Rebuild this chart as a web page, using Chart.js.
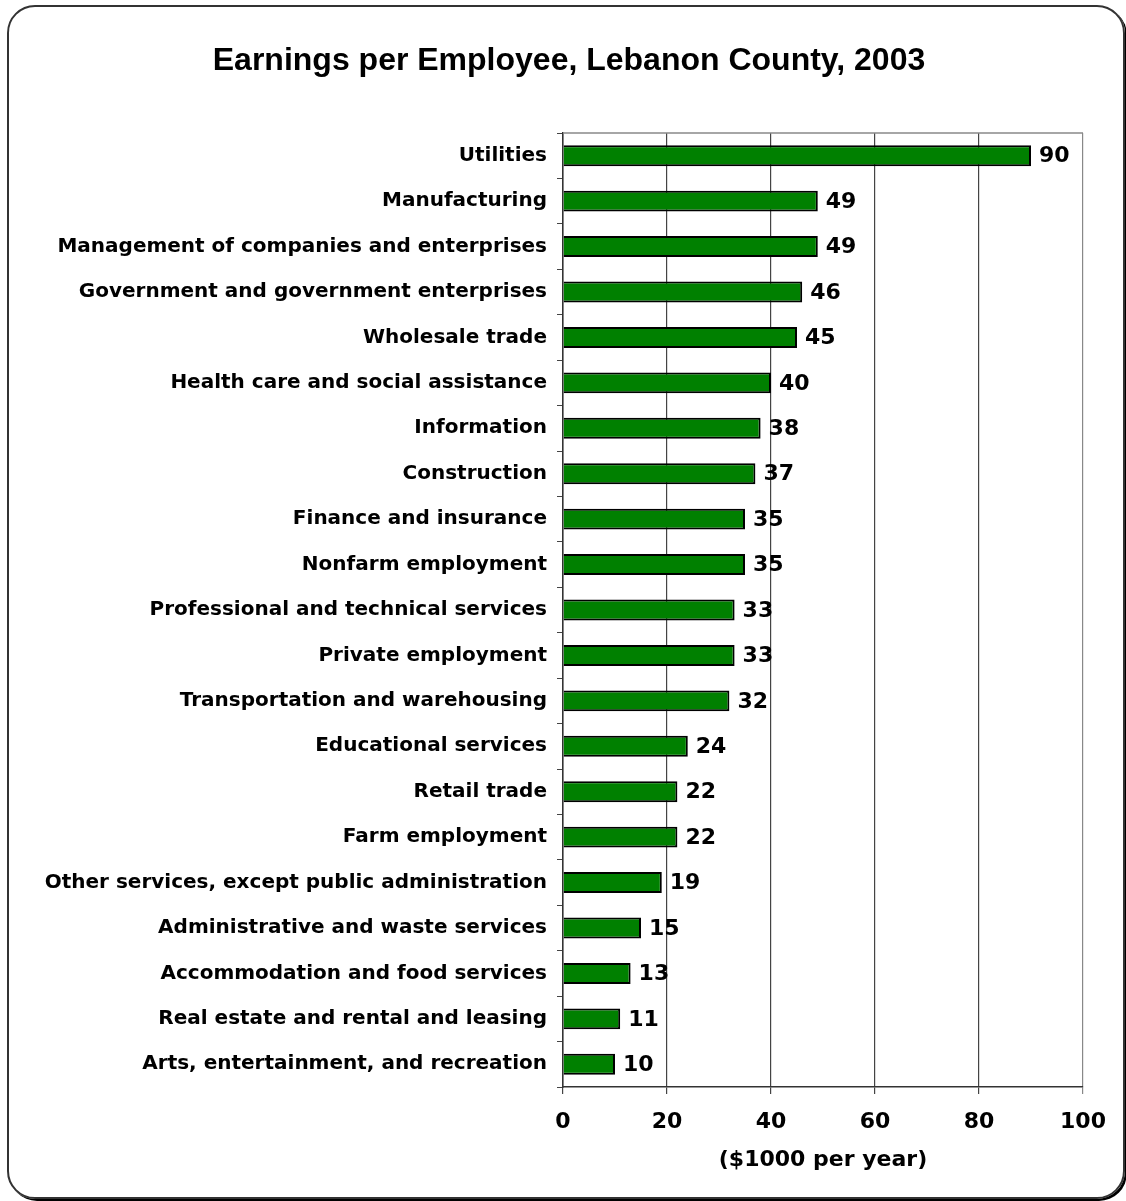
<!DOCTYPE html>
<html>
<head>
<meta charset="utf-8">
<script src="https://cdn.jsdelivr.net/npm/chart.js@4.4.1/dist/chart.umd.min.js"></script>
<style>
  html, body { margin: 0; padding: 0; background: #fff; }
  #wrap { position: relative; width: 1126px; height: 1201px; }
  #frame {
    position: absolute; left: 7px; top: 5px; width: 1118px; height: 1194px;
    box-sizing: border-box; border: 2px solid #333; border-radius: 28px;
    box-shadow: 2px 2px 0 #000; pointer-events: none;
  }
</style>
</head>
<body>
<div id="wrap">
  <canvas id="earnChart" width="1126" height="1201"></canvas>
  <div id="frame"></div>
</div>
<script>
// earnings per employee by industry, $1000 per year
var industries = [
  "Utilities",
  "Manufacturing",
  "Management of companies and enterprises",
  "Government and government enterprises",
  "Wholesale trade",
  "Health care and social assistance",
  "Information",
  "Construction",
  "Finance and insurance",
  "Nonfarm employment",
  "Professional and technical services",
  "Private employment",
  "Transportation and warehousing",
  "Educational services",
  "Retail trade",
  "Farm employment",
  "Other services, except public administration",
  "Administrative and waste services",
  "Accommodation and food services",
  "Real estate and rental and leasing",
  "Arts, entertainment, and recreation"
];
var earnings = [90, 49, 49, 46, 45, 40, 38, 37, 35, 35, 33, 33, 32, 24, 22, 22, 19, 15, 13, 11, 10];
var xTicks = [0, 20, 40, 60, 80, 100];

var chartTitle = "Earnings per Employee, Lebanon County, 2003";
var axisTitle = "($1000 per year)";

var labelFont = "DejaVu Sans";

// title, plot border and value labels
var extras = {
  id: 'extras',
  beforeDatasetsDraw: function(chart) {
    var a = chart.chartArea, ctx = chart.ctx;
    ctx.save();
    ctx.strokeStyle = '#888';
    ctx.lineWidth = 1.5;
    ctx.beginPath();
    ctx.moveTo(a.left, a.top);
    ctx.lineTo(a.right, a.top);
    ctx.stroke();
    ctx.restore();
  },
  afterDraw: function(chart) {
    var ctx = chart.ctx;
    ctx.save();
    ctx.fillStyle = '#000';
    ctx.font = 'bold 32px "Liberation Sans", Arial, sans-serif';
    ctx.textAlign = 'center';
    ctx.textBaseline = 'middle';
    ctx.fillText(chartTitle, 569, 61);

    ctx.font = 'bold 22px "' + labelFont + '"';
    ctx.textAlign = 'left';
    var meta = chart.getDatasetMeta(0);
    meta.data.forEach(function(bar, i) {
      ctx.fillText(String(earnings[i]), bar.x + 8, bar.y + 1);
    });
    ctx.restore();
  }
};

new Chart(document.getElementById('earnChart'), {
  type: 'bar',
  data: {
    labels: industries,
    datasets: [{
      data: earnings,
      backgroundColor: '#008000',
      borderColor: '#000',
      borderWidth: 2,
      barPercentage: 0.46,
      categoryPercentage: 1
    }]
  },
  options: {
    indexAxis: 'y',
    responsive: false,
    animation: false,
    layout: { padding: { top: 133, right: 43, bottom: 0, left: 0 } },
    plugins: {
      legend: { display: false },
      tooltip: { enabled: false }
    },
    scales: {
      x: {
        min: 0,
        max: 100,
        afterFit: function(scale) { scale.height = 1201 - 1087; },
        afterBuildTicks: function(scale) {
          scale.ticks = xTicks.map(function(v) { return { value: v }; });
        },
        grid: {
          color: function(c) { return c.tick && c.tick.value === 100 ? '#888' : '#444'; },
          lineWidth: 1.2,
          tickLength: 7
        },
        border: { color: '#333', width: 1.5 },
        ticks: {
          color: '#000',
          padding: 15,
          maxRotation: 0,
          font: { family: labelFont, size: 22, weight: 'bold' }
        },
        title: {
          display: true,
          text: axisTitle,
          color: '#000',
          padding: { top: 0, bottom: 28 },
          font: { family: labelFont, size: 22, weight: 'bold' }
        }
      },
      y: {
        afterFit: function(scale) { scale.width = 563; },
        grid: {
          drawOnChartArea: false,
          color: '#444',
          tickLength: 6
        },
        border: { color: '#333', width: 1.5 },
        ticks: {
          color: '#000',
          padding: 10,
          autoSkip: false,
          font: { family: labelFont, size: 20, weight: 'bold' }
        }
      }
    }
  },
  plugins: [extras]
});
</script>
</body>
</html>
